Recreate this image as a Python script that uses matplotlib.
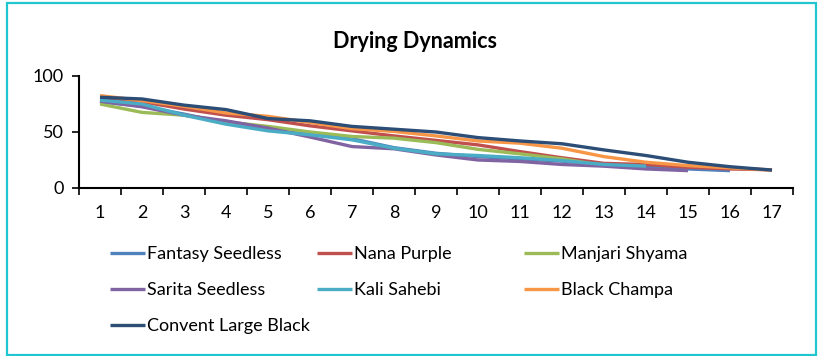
import matplotlib.pyplot as plt
from matplotlib.patches import Rectangle
from matplotlib.ticker import FixedLocator

plt.rcParams['font.family'] = ['Lato', 'DejaVu Sans']

days = list(range(1, 18))

fantasy_seedless = [77, 73, 66, 58, 52, 48, 44, 36, 31, 28, 26, 24, 21, 19, 17, 15.5]
nana_purple = [79, 77, 70.5, 65, 61, 55.5, 51, 46.5, 42.5, 38.5, 32.5, 27, 22, 21, 18.5, 17, 16.3]
manjari_shyama = [75, 67.5, 65, 59, 55, 50, 46, 44.5, 40.5, 34.5, 30.5, 26, 20, 18]
sarita_seedless = [77.5, 72.5, 65, 60, 53.5, 45.5, 37, 35, 29.5, 25, 23.7, 21, 19.5, 17, 15.5]
kali_sahebi = [78.5, 75, 65, 57, 51, 47.5, 43, 35.5, 30.5, 29, 27, 24.5, 21, 19.5]
black_champa = [82.5, 78, 73, 67, 64, 58.5, 53, 50.5, 46.5, 42, 40, 35.5, 28, 23, 20, 18, 16]
convent_large_black = [81, 79.5, 74, 70, 62, 60, 55, 52.5, 50, 45, 42, 39.5, 34, 29, 23, 19, 16]

series = [
    ('Fantasy Seedless', fantasy_seedless, '#4F81BD'),
    ('Nana Purple', nana_purple, '#C0504D'),
    ('Manjari Shyama', manjari_shyama, '#9BBB59'),
    ('Sarita Seedless', sarita_seedless, '#8064A2'),
    ('Kali Sahebi', kali_sahebi, '#4BACC6'),
    ('Black Champa', black_champa, '#F79646'),
    ('Convent Large Black', convent_large_black, '#2C4D75'),
]

fig = plt.figure(figsize=(8.18, 3.56), dpi=100)
ax = fig.add_axes([79 / 818, 1 - 188 / 356, 714 / 818, 112 / 356])

handles = []
for name, vals, col in series:
    xs = [d - 1 for d in days[:len(vals)]]
    ln, = ax.plot(xs, vals, color=col, lw=2.4, label=name, solid_capstyle='butt')
    handles.append(ln)

ax.set_xlim(-0.5, 16.5)
ax.set_ylim(0, 100)
ax.set_xticks(range(17))
ax.set_xticklabels([str(d) for d in days])
ax.xaxis.set_minor_locator(FixedLocator([i - 0.5 for i in range(18)]))
ax.tick_params(axis='x', which='major', length=0, pad=12, labelsize=13)
ax.tick_params(axis='x', which='minor', length=5, width=1.2, direction='out')
ax.set_yticks([0, 50, 100])
ax.tick_params(axis='y', length=5, width=1.2, direction='out', labelsize=13, pad=6)
for s in ['top', 'right']:
    ax.spines[s].set_visible(False)
for s in ['left', 'bottom']:
    ax.spines[s].set_linewidth(1.5)

fig.text(415 / 818, 1 - 41 / 356, 'Drying Dynamics', ha='center', va='center',
         fontsize=15.5, fontweight='bold')

# legend in three columns, filled row by row like the original
cols = [[0, 3, 6], [1, 4], [2, 5]]
xstarts = [110, 317, 524]
for idx, x0 in zip(cols, xstarts):
    fig.legend([handles[i] for i in idx], [series[i][0] for i in idx],
               loc='upper left', bbox_to_anchor=(x0 / 818, 1 - 246.5 / 356),
               frameon=False, fontsize=13, borderpad=0, borderaxespad=0,
               handlelength=1.95, handletextpad=0.12, labelspacing=1.1)

fig.patches.append(Rectangle((6.5 / 818, 1.5 / 356), 809 / 818, 352 / 356,
                             transform=fig.transFigure, fill=False,
                             edgecolor='#1FC5CF', lw=1.6))

fig.savefig('out.png', dpi=100)
